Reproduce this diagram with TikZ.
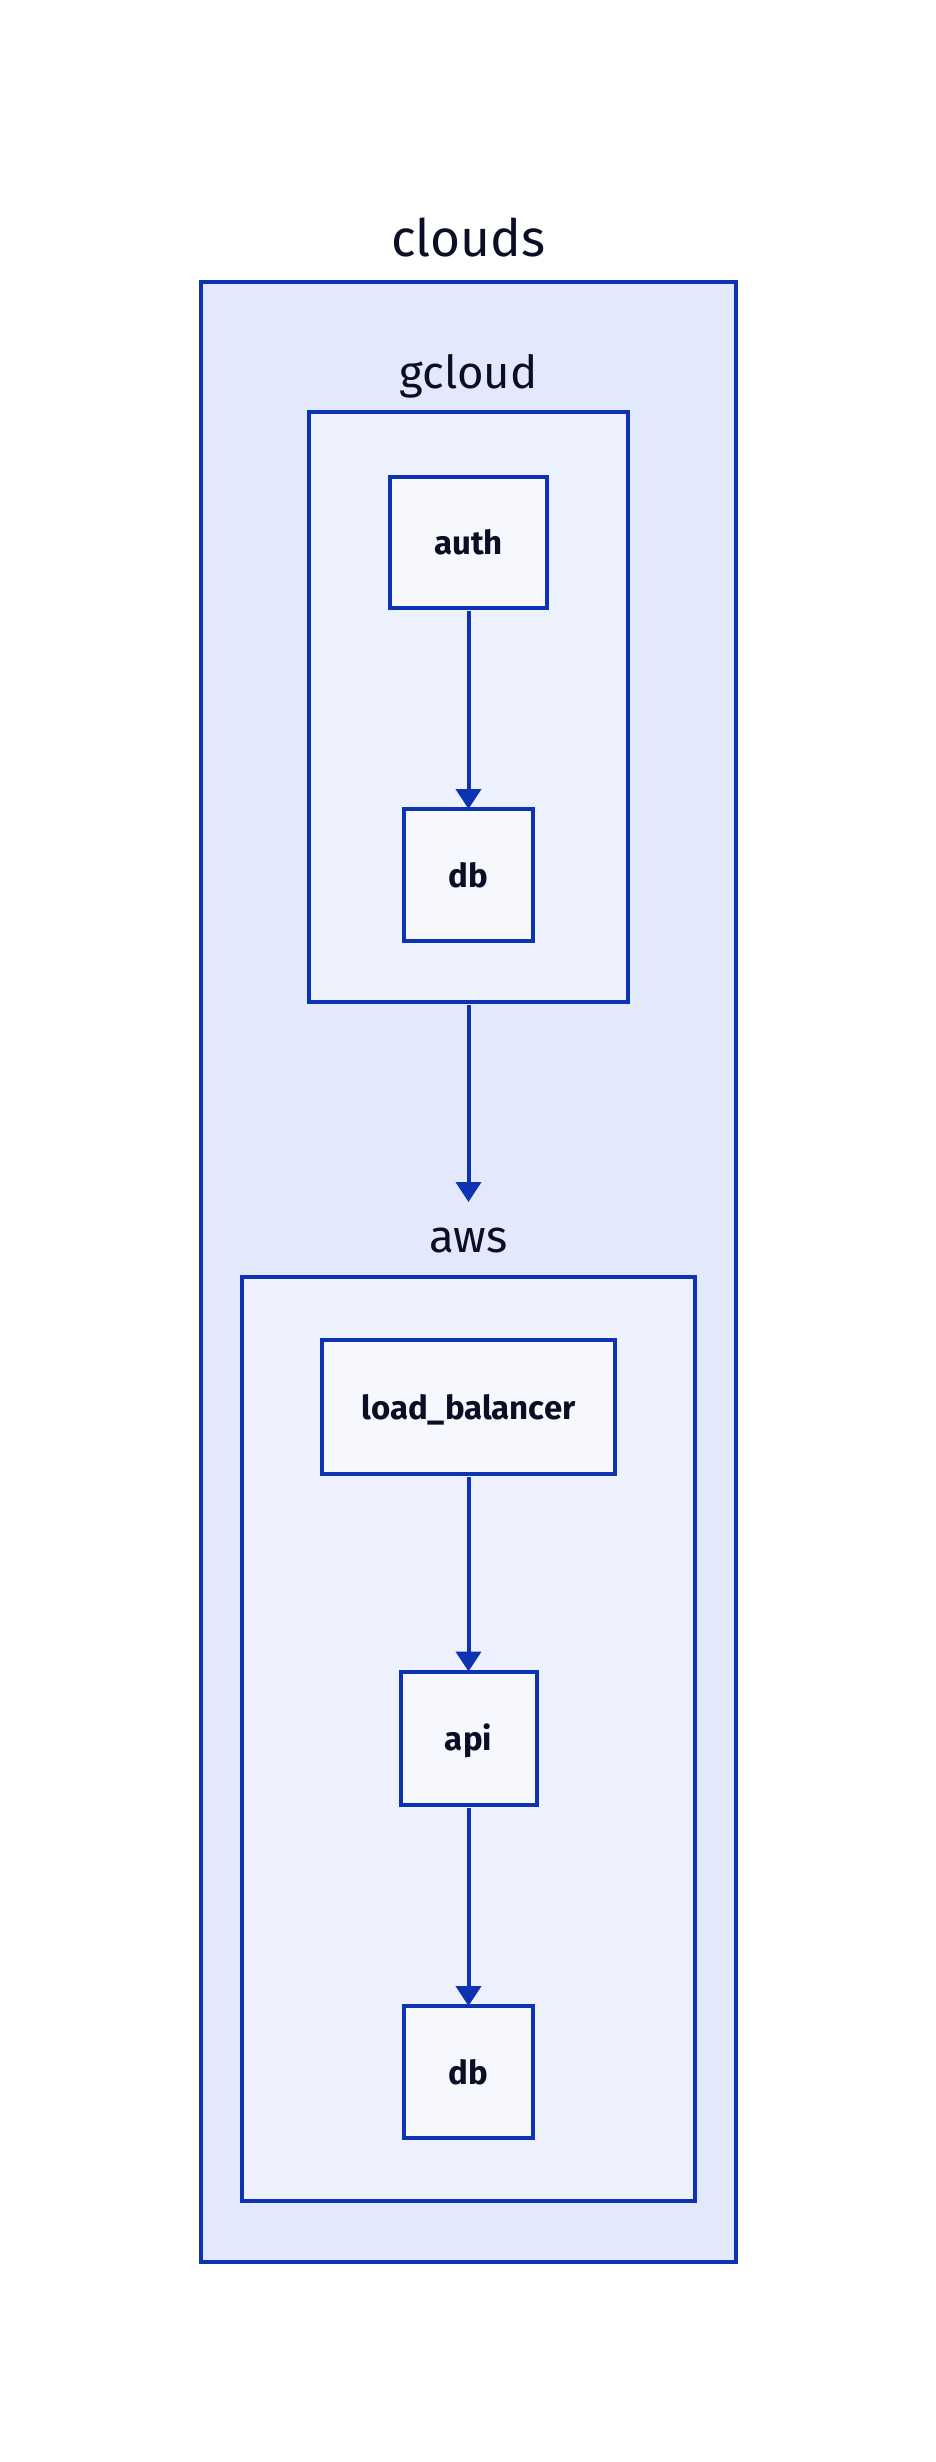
\documentclass[tikz,border=0pt]{standalone}
\usepackage{fontspec}
\setmainfont{Fira Sans}
\usetikzlibrary{arrows.meta}
\definecolor{dstroke}{HTML}{0D32B2}
\definecolor{dfillA}{HTML}{E3E9FD}
\definecolor{dfillB}{HTML}{EDF0FD}
\definecolor{dfillC}{HTML}{F7F8FE}
\definecolor{dtext}{HTML}{0A0F25}
\begin{document}
\begin{tikzpicture}[x=1pt,y=-1pt,
  contA/.style={draw=dstroke,fill=dfillA,line width=4pt,rectangle,inner sep=0pt,outer sep=0pt},
  contB/.style={draw=dstroke,fill=dfillB,line width=4pt,rectangle,inner sep=0pt,outer sep=0pt},
  shapebox/.style={draw=dstroke,fill=dfillC,line width=4pt,rectangle,inner sep=0pt,outer sep=0pt,
    text=dtext,font=\bfseries\fontsize{33}{36}\selectfont,text height=24pt,text depth=0pt},
  clabelA/.style={text=dtext,font=\fontsize{51.5}{58}\selectfont,anchor=base,inner sep=0pt},
  clabelB/.style={text=dtext,font=\fontsize{45.5}{52}\selectfont,anchor=base,inner sep=0pt},
  conn/.style={draw=dstroke,line width=4pt,shorten <=3pt,-{Triangle[width=25pt,length=20pt]}}]
\fill[white] (0,0) rectangle (936,2462);
\useasboundingbox (0,0) rectangle (936,2462);
% containers
\node[contA,minimum width=535pt,minimum height=1980pt] (clouds) at (468.5,1272) {};
\node[clabelA] (cloudslabel) at (468.5,256) {clouds};
\node[contB,minimum width=319pt,minimum height=590pt] (gcloud) at (468.5,707) {};
\node[clabelB] (gcloudlabel) at (468.5,388) {gcloud};
\node[contB,minimum width=453pt,minimum height=924pt] (aws) at (468.5,1739) {};
\node[clabelB] (awslabel) at (468.5,1252) {aws};
\coordinate (awsin) at (468.5,1202);
% shapes
\node[shapebox,minimum width=157pt,minimum height=131pt] (auth) at (468.5,542.5) {auth};
\node[shapebox,minimum width=129pt,minimum height=132pt] (gdb) at (468.5,875) {db};
\node[shapebox,minimum width=293pt,minimum height=134pt] (lb) at (468.5,1407) {load\_balancer};
\node[shapebox,minimum width=136pt,minimum height=133pt] (api) at (468.5,1738) {api};
\node[shapebox,minimum width=129pt,minimum height=132pt] (adb) at (468.5,2072) {db};
% connectors
\draw[conn] (auth) -- (gdb);
\draw[conn] (gcloud) -- (awsin);
\draw[conn] (lb) -- (api);
\draw[conn] (api) -- (adb);
\end{tikzpicture}
\end{document}
